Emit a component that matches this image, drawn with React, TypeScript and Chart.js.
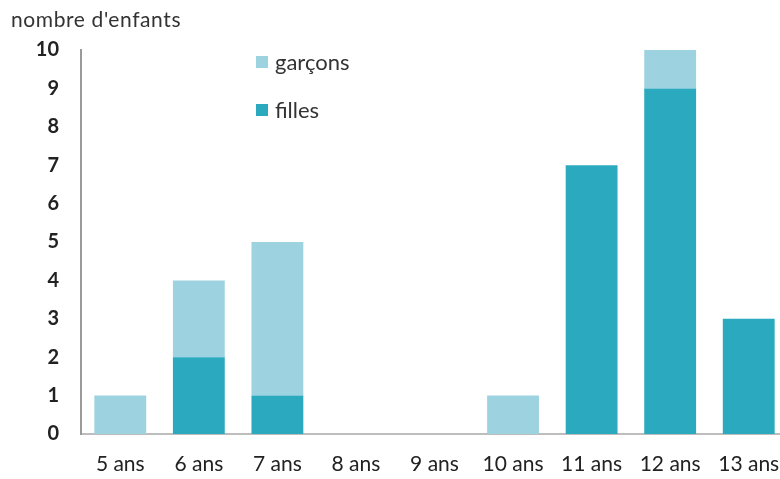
import React, { useEffect, useRef } from "react";
import { Chart, registerables } from "chart.js";

Chart.register(...registerables);

const categories = ["5 ans", "6 ans", "7 ans", "8 ans", "9 ans", "10 ans", "11 ans", "12 ans", "13 ans"];
const filles = [0, 2, 1, 0, 0, 0, 7, 9, 3];
const garcons = [1, 2, 4, 0, 0, 1, 0, 1, 0];
const yTicks = [0, 1, 2, 3, 4, 5, 6, 7, 8, 9, 10];

const DARK = "#2AA9BF";
const LIGHT = "#9DD3E0";
const FONT = "Lato, 'Open Sans', sans-serif";

export default function App() {
  const ref = useRef<HTMLCanvasElement | null>(null);

  useEffect(() => {
    if (!ref.current) return;
    const chart = new Chart(ref.current, {
      type: "bar",
      data: {
        labels: categories,
        datasets: [
          { label: "filles", data: filles, backgroundColor: DARK, borderWidth: 0 },
          { label: "garçons", data: garcons, backgroundColor: LIGHT, borderWidth: 0 },
        ],
      },
      options: {
        animation: false,
        responsive: false,
        maintainAspectRatio: false,
        layout: { padding: { top: 50, right: 12, left: 0, bottom: 0 } },
        plugins: { legend: { display: false }, tooltip: { enabled: false }, title: { display: false } },
        datasets: { bar: { categoryPercentage: 1, barPercentage: 0.66 } },
        scales: {
          x: {
            stacked: true,
            grid: { display: false, drawTicks: false },
            border: { display: true, color: "#BDBDBD", width: 2 },
            ticks: { color: "#222", font: { family: FONT, size: 21 }, padding: 18, maxRotation: 0, autoSkip: false },
            afterFit: (s: any) => { s.height = 479 - 434; },
          },
          y: {
            stacked: true,
            min: 0,
            max: 10,
            afterBuildTicks: (s: any) => { s.ticks = yTicks.map((v) => ({ value: v })); },
            grid: { display: false, drawTicks: false },
            border: { display: true, color: "#9A9A9A", width: 2 },
            ticks: { color: "#222", font: { family: FONT, size: 20, weight: "bold" }, padding: 22 },
            afterFit: (s: any) => { s.width = 81; },
          },
        },
      },
    });
    return () => chart.destroy();
  }, []);

  return (
    <div style={{ position: "fixed", left: 0, top: 0, width: 780, height: 479, overflow: "hidden", background: "#fff" }}>
      <canvas ref={ref} width={800} height={479} style={{ position: "absolute", left: 0, top: 0, width: 800, height: 479 }} />
      <div style={{ position: "absolute", left: 11, top: 6, fontFamily: FONT, fontSize: 21, letterSpacing: 0.6, color: "#333", whiteSpace: "nowrap" }}>
        nombre d'enfants
      </div>
      <div style={{ position: "absolute", left: 256, top: 48, fontFamily: FONT, fontSize: 22, color: "#333", lineHeight: "28px" }}>
        <div style={{ display: "flex", alignItems: "center", height: 28 }}>
          <span style={{ display: "inline-block", width: 12, height: 12, background: LIGHT, marginRight: 7 }} />
          garçons
        </div>
        <div style={{ display: "flex", alignItems: "center", height: 28, marginTop: 20 }}>
          <span style={{ display: "inline-block", width: 12, height: 12, background: DARK, marginRight: 7 }} />
          filles
        </div>
      </div>
    </div>
  );
}
